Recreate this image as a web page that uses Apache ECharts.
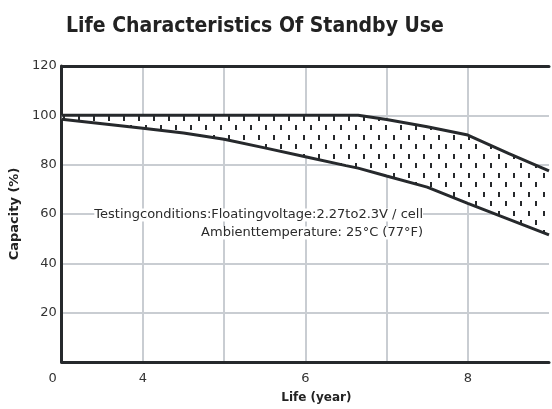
<!DOCTYPE html>
<html>
<head>
<meta charset="utf-8">
<script src="https://cdn.jsdelivr.net/npm/echarts@6/dist/echarts.min.js"></script>
<style>
html,body{margin:0;padding:0;background:#fff;}
#chart{width:552px;height:409px;}
</style>
</head>
<body>
<div id="chart"></div>
<script>
// ---- data ----
const titleText = 'Life Characteristics Of Standby Use';
const xAxisName = 'Life (year)';
const yAxisName = 'Capacity (%)';
const years = [3, 3.5, 4, 4.5, 5, 5.5, 6, 6.5, 6.65, 7, 7.5, 8, 8.5, 9];
const upperCapacity = [100, 100, 100, 100, 100, 100, 100, 100, 100, 98.3, 95.4, 92.0, 84.6, 77.5];
const lowerCapacity = [98.4, 96.6, 94.8, 92.8, 90.3, 86.8, 83.2, 79.6, 78.6, 75.4, 70.9, 64.3, 57.9, 51.5];
const xTickValues = [3, 4, 6, 8];
const xTickLabels = ['0', '4', '6', '8'];
const noteLine1 = 'Testingconditions:Floatingvoltage:2.27to2.3V / cell';
const noteLine2 = 'Ambienttemperature: 25°C (77°F)';

// ---- pattern for the band (staggered small dashes) ----
const pat = document.createElement('canvas');
pat.width = 15; pat.height = 19;
const pctx = pat.getContext('2d');
pctx.fillStyle = '#26292c';
pctx.fillRect(3, 2, 2, 5);
pctx.fillRect(10, 11, 2, 5);

const lowerData = years.map((x, i) => [x, lowerCapacity[i]]);
const upperData = years.map((x, i) => [x, upperCapacity[i]]);
const bandData = years.map((x, i) => [x, lowerCapacity[i], upperCapacity[i]]);

const chart = echarts.init(document.getElementById('chart'));
const lineColor = '#26292c';
const gridColor = '#c9cdd2';

function renderBand(params, api) {
  if (params.dataIndex !== 0) return null;
  const pts = [];
  for (let i = 0; i < bandData.length; i++) pts.push(api.coord([bandData[i][0], bandData[i][2]]));
  for (let i = bandData.length - 1; i >= 0; i--) pts.push(api.coord([bandData[i][0], bandData[i][1]]));
  return {
    type: 'group',
    children: [
      {type: 'polygon', shape: {points: pts}, style: {fill: '#fff', stroke: null}},
      {type: 'polygon', shape: {points: pts}, style: {fill: {image: pat, repeat: 'repeat'}, stroke: null}}
    ]
  };
}

chart.setOption({
  animation: false,
  backgroundColor: '#fff',
  title: {
    text: titleText,
    left: 250, top: 11, textAlign: 'center',
    textStyle: {fontFamily: '"Liberation Sans Narrow", "DejaVu Sans Condensed", sans-serif', fontWeight: 'bold', fontSize: 21, color: '#222'}
  },
  grid: {left: 60, right: 0, top: 66, bottom: 47},
  xAxis: [{
    type: 'value', min: 3, max: 9, interval: 1,
    axisLine: {show: true, lineStyle: {color: lineColor, width: 3}},
    axisTick: {show: false},
    splitLine: {show: true, showMinLine: false, showMaxLine: false, lineStyle: {color: gridColor, width: 2}},
    axisLabel: {
      margin: 10,
      fontFamily: 'DejaVu Sans', fontSize: 13, color: '#333',
      formatter: function (v) {
        const k = xTickValues.indexOf(v);
        if (k < 0) return '';
        return k === 0 ? '{z|' + xTickLabels[k] + '}' : xTickLabels[k];
      },
      rich: {z: {padding: [0, 18, 0, 0], fontFamily: 'DejaVu Sans', fontSize: 13, color: '#333'}}
    },
    name: xAxisName, nameLocation: 'middle', nameGap: 30,
    nameTextStyle: {fontFamily: 'DejaVu Sans', fontWeight: 'bold', fontSize: 12, color: '#222', padding: [0, 0, 0, 22]}
  }, {
    type: 'value', min: 3, max: 9, position: 'top',
    axisLine: {show: true, onZero: false, lineStyle: {color: lineColor, width: 3}},
    axisTick: {show: false}, axisLabel: {show: false}, splitLine: {show: false}
  }],
  yAxis: {
    type: 'value', min: 0, max: 120, interval: 20,
    axisLine: {show: true, onZero: false, lineStyle: {color: lineColor, width: 3}},
    axisTick: {show: false},
    splitLine: {show: true, lineStyle: {color: gridColor, width: 2}},
    axisLabel: {
      margin: 5, fontFamily: 'DejaVu Sans', fontSize: 13, color: '#333',
      formatter: v => v === 0 ? '' : String(v)
    },
    name: yAxisName, nameLocation: 'middle', nameRotate: 90, nameGap: 38,
    nameTextStyle: {fontFamily: 'DejaVu Sans', fontWeight: 'bold', fontSize: 13, color: '#222'}
  },
  graphic: [
    {type: 'text', z: 50, style: {text: noteLine1, x: 423, y: 215, align: 'right', verticalAlign: 'middle',
      font: '13px "DejaVu Sans", sans-serif', fill: '#2b2b2b', backgroundColor: '#fff'}},
    {type: 'text', z: 50, style: {text: noteLine2, x: 423, y: 233, align: 'right', verticalAlign: 'middle',
      font: '13px "DejaVu Sans", sans-serif', fill: '#2b2b2b', backgroundColor: '#fff'}}
  ],
  series: [
    {type: 'custom', data: bandData, renderItem: renderBand, z: 3, silent: true,
      encode: {x: 0, y: [1, 2]}},
    {type: 'line', data: lowerData, symbol: 'none', z: 5,
      lineStyle: {color: lineColor, width: 3}},
    {type: 'line', data: upperData, symbol: 'none', z: 5,
      lineStyle: {color: lineColor, width: 3}}
  ]
});
</script>
</body>
</html>
